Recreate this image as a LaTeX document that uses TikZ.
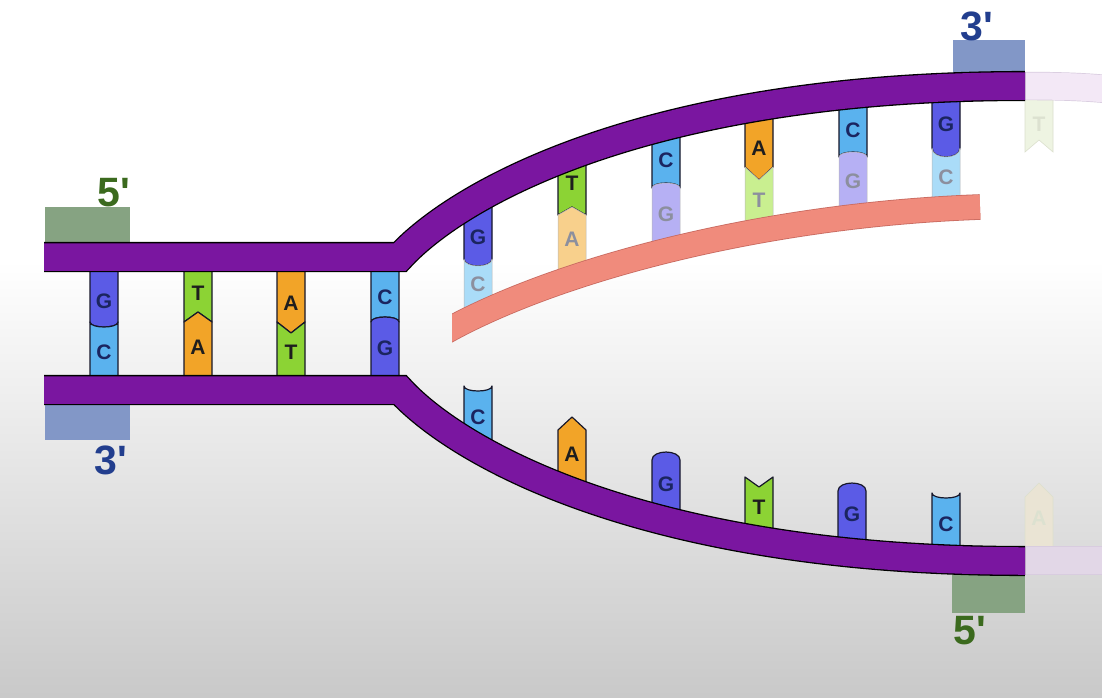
\documentclass[tikz,border=0pt]{standalone}
\usepackage{fontspec}
\newfontfamily\lblfont{Liberation Sans}[Ligatures=TeXOff]
\definecolor{bggray}{HTML}{C9C9C9}
\definecolor{dnapurple}{HTML}{7A16A0}
\definecolor{newstrand}{HTML}{F08B7C}
\definecolor{newedge}{HTML}{C86A60}
\definecolor{colG}{HTML}{5B5BE6}
\definecolor{colC}{HTML}{5AB2EE}
\definecolor{colT}{HTML}{8CD334}
\definecolor{colA}{HTML}{F2A428}
\definecolor{paleG}{HTML}{B6B0F4}
\definecolor{paleC}{HTML}{AADCF8}
\definecolor{paleT}{HTML}{C9EF90}
\definecolor{paleA}{HTML}{F8D08C}
\definecolor{fadeT}{HTML}{EEF4E2}
\definecolor{fadeA}{HTML}{EAE4D4}
\definecolor{fadeBaseEdge}{HTML}{DCE0CE}
\definecolor{fadeStrandTop}{HTML}{F3E8F6}
\definecolor{fadeStrandBot}{HTML}{E2D7E7}
\definecolor{fadeEdge}{HTML}{D8CCDF}
\definecolor{boxgreen}{HTML}{86A382}
\definecolor{boxblue}{HTML}{8297C7}
\definecolor{txtgreen}{HTML}{3B6A1E}
\definecolor{txtblue}{HTML}{223E8E}
\definecolor{inkdark}{HTML}{1B2560}
\definecolor{inkblack}{HTML}{1E1E1E}
\definecolor{inkpale}{HTML}{8C8F9E}
\definecolor{inkfade}{HTML}{DCE1D0}
\definecolor{outline}{HTML}{17172A}

% width of one nucleotide block
\newcommand\basew{28}
% block with a rounded (G/C) end: x-left, y of the joint, y of the flat end, bulge, style
\newcommand\roundbase[5]{\path[#5,shift={(#1,#2)}] (0,{#3-#2}) -- (0,0)
  .. controls (0,{1.33*(#4)}) and (\basew,{1.33*(#4)}) .. (\basew,0) -- (\basew,{#3-#2}) -- cycle;}
% block with a pointed (A/T) end: x-left, y of the joint, y of the flat end, tip offset, style
\newcommand\pointbase[5]{\path[#5,shift={(#1,#2)}] (0,{#3-#2}) -- (0,0)
  -- ({\basew/2},#4) -- (\basew,0) -- (\basew,{#3-#2}) -- cycle;}

\begin{document}
\begin{tikzpicture}[x=1pt,y=-1pt,
  base/.style={draw=outline,line width=1.2pt,line join=round},
  pale/.style={draw=black!28,line width=0.5pt,line join=round},
  gbase/.style={base,fill=colG}, cbase/.style={base,fill=colC},
  tbase/.style={base,fill=colT}, abase/.style={base,fill=colA},
  gpale/.style={pale,fill=paleG}, cpale/.style={pale,fill=paleC},
  tpale/.style={pale,fill=paleT}, apale/.style={pale,fill=paleA},
  tfade/.style={draw=fadeBaseEdge,line width=0.6pt,fill=fadeT},
  afade/.style={draw=fadeBaseEdge,line width=0.6pt,fill=fadeA},
  lett/.style={font=\lblfont\bfseries\fontsize{21}{21}\selectfont,inner sep=0pt},
  dk/.style={lett,text=inkdark}, bk/.style={lett,text=inkblack},
  pl/.style={lett,text=inkpale}, fd/.style={lett,text=inkfade},
  lbl/.style={font=\lblfont\bfseries\fontsize{41}{41}\selectfont,inner sep=0pt},
  strand/.style={draw=black,line width=1.3pt,double=dnapurple,double distance=27.5pt,line join=miter},
  primer/.style={draw=newedge,line width=0.8pt,double=newstrand,double distance=24pt},
  ghost/.style={draw=fadeEdge,line width=0.7pt,double distance=27pt}]

\useasboundingbox (0,0) rectangle (1102,697);
% background
\fill[white] (0,0) rectangle (1102,262);
\shade[top color=white,bottom color=bggray] (0,260) rectangle (1102,697);

% end markers
\fill[boxgreen] (45,207) rectangle (130,244);
\fill[boxblue] (45,404) rectangle (130,440);
\fill[boxblue] (953,40) rectangle (1025,73);
\fill[boxgreen] (952,574) rectangle (1025,613);

% paired bases of the intact double helix
\roundbase{90}{322}{262}{5}{gbase}   \roundbase{90}{322}{384}{5}{cbase}
\pointbase{184}{322}{262}{-10}{tbase} \pointbase{184}{322}{384}{-10}{abase}
\pointbase{277}{322}{262}{11}{abase}  \pointbase{277}{322}{384}{11}{tbase}
\roundbase{371}{322}{262}{-5}{cbase}  \roundbase{371}{322}{384}{-5}{gbase}

% upper template with the growing complementary strand
\roundbase{464}{259}{195}{7}{gbase}   \roundbase{464}{259}{318}{7}{cpale}
\pointbase{558}{215}{150}{-8}{tbase}  \pointbase{558}{215}{278}{-8}{apale}
\roundbase{652}{188}{125}{-5}{cbase}  \roundbase{652}{188}{250}{-5}{gpale}
\pointbase{745}{167}{110}{13}{abase}  \pointbase{745}{167}{230}{13}{tpale}
\roundbase{839}{157}{97}{-5}{cbase}   \roundbase{839}{157}{215}{-5}{gpale}
\roundbase{932}{148}{90}{9}{gbase}    \roundbase{932}{148}{206}{9}{cpale}
\pointbase{1025}{152}{90}{-12}{tfade}

% lower template, bases still unpaired
\roundbase{464}{386}{450}{5}{cbase}
\pointbase{558}{430}{497}{-13}{abase}
\roundbase{652}{460}{518}{-8}{gbase}
\pointbase{745}{477}{537}{10}{tbase}
\roundbase{838}{491}{548}{-8}{gbase}
\roundbase{932}{493}{553}{5}{cbase}
\pointbase{1025}{497}{553}{-14}{afade}

% new strand, cut square at its start
\begin{scope}
  \clip (452,0) rectangle (1102,697);
  \path[primer] (430,340) -- (452,328) .. controls (560,270) and (760,215) .. (980,207);
\end{scope}

% fading continuation of the parent strands
\path[ghost,double=fadeStrandTop] (1025,86) .. controls (1060,86) and (1090,87) .. (1115,90);
\path[ghost,double=fadeStrandBot] (1025,560.5) -- (1115,560.5);

% parent strands
\path[strand] (44,257) -- (400,257) .. controls (455,197) and (640,86) .. (1025,86);
\path[strand] (44,390) -- (400,390) .. controls (455,450) and (640,561) .. (1025,561);

% base letters
\node[dk] (l1t) at (104,301) {G};  \node[dk] (l1b) at (104,352) {C};
\node[bk] (l2t) at (198,293) {T};  \node[bk] (l2b) at (198,347) {A};
\node[bk] (l3t) at (291,303) {A};  \node[bk] (l3b) at (291,352) {T};
\node[dk] (l4t) at (385,297) {C};  \node[dk] (l4b) at (385,348) {G};

\node[dk] (u1) at (478,237) {G};  \node[pl] (n1) at (478,284) {C};
\node[bk] (u2) at (572,183) {T};  \node[pl] (n2) at (572,239) {A};
\node[dk] (u3) at (666,160) {C};  \node[pl] (n3) at (666,214) {G};
\node[bk] (u4) at (759,148) {A};  \node[pl] (n4) at (759,200) {T};
\node[dk] (u5) at (853,130) {C};  \node[pl] (n5) at (853,181) {G};
\node[dk] (u6) at (946,124) {G};  \node[pl] (n6) at (946,177) {C};
\node[fd] (u7) at (1039,124) {T};

\node[dk] (d1) at (478,417) {C};
\node[bk] (d2) at (572,454) {A};
\node[dk] (d3) at (666,484) {G};
\node[bk] (d4) at (759,507) {T};
\node[dk] (d5) at (852,514) {G};
\node[dk] (d6) at (946,524) {C};
\node[fd] (d7) at (1039,518) {A};

% strand direction labels
\node[lbl,text=txtgreen] (endTL) at (114,193) {5'};
\node[lbl,text=txtblue]  (endBL) at (111,460) {3'};
\node[lbl,text=txtblue]  (endTR) at (977,26)  {3'};
\node[lbl,text=txtgreen] (endBR) at (970,631) {5'};
\end{tikzpicture}
\end{document}
